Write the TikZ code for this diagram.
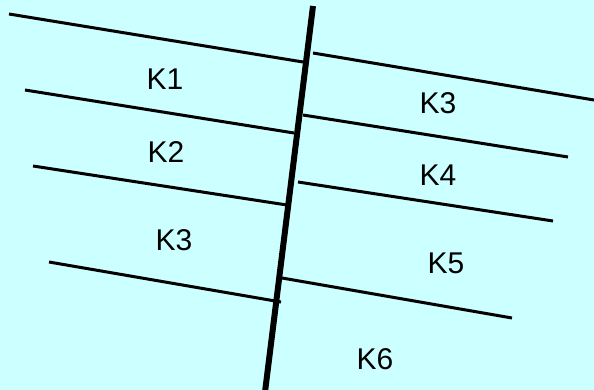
\documentclass[tikz,border=0pt]{standalone}
\usepackage{fontspec}
\setmainfont{Liberation Sans}
\usepackage{tikz}
\usepackage{xcolor}
\definecolor{bgcyan}{HTML}{CCFFFF}

\begin{document}
\begin{tikzpicture}[x=1pt, y=-1pt,
    bed/.style={line width=3pt},
    fault/.style={line width=6pt},
    block/.style={font=\fontsize{30}{33}\selectfont}]
    % Background
    \fill[bgcyan] (0,0) rectangle (594,390);
    \useasboundingbox (0,0) rectangle (594,390);

    % The fault
    \coordinate (ft) at (313,6);
    \coordinate (fb) at (265,392);

    % Left side bed boundaries
    \coordinate (l1a) at (9,14);   \coordinate (l1b) at (303,62);
    \coordinate (l2a) at (25,90);  \coordinate (l2b) at (294,133);
    \coordinate (l3a) at (33,166); \coordinate (l3b) at (287,205);
    \coordinate (l4a) at (49,262); \coordinate (l4b) at (281,302);

    % Right side bed boundaries
    \coordinate (r1a) at (313,53); \coordinate (r1b) at (594,100);
    \coordinate (r2a) at (303,115); \coordinate (r2b) at (568,157);
    \coordinate (r3a) at (298,182); \coordinate (r3b) at (553,221);
    \coordinate (r4a) at (282,278); \coordinate (r4b) at (512,318);

    % Draw the beds
    \draw[bed] (l1a) -- (l1b);
    \draw[bed] (l2a) -- (l2b);
    \draw[bed] (l3a) -- (l3b);
    \draw[bed] (l4a) -- (l4b);
    \draw[bed] (r1a) -- (r1b);
    \draw[bed] (r2a) -- (r2b);
    \draw[bed] (r3a) -- (r3b);
    \draw[bed] (r4a) -- (r4b);

    \draw[fault] (ft) -- (fb);

    % Labels
    \node[block] (k1) at (165,79) {K1};
    \node[block] (k2) at (166,152) {K2};
    \node[block] (k3l) at (174,240) {K3};
    \node[block] (k3r) at (438,103) {K3};
    \node[block] (k4) at (438,175) {K4};
    \node[block] (k5) at (446,263) {K5};
    \node[block] (k6) at (375,359) {K6};
\end{tikzpicture}
\end{document}
